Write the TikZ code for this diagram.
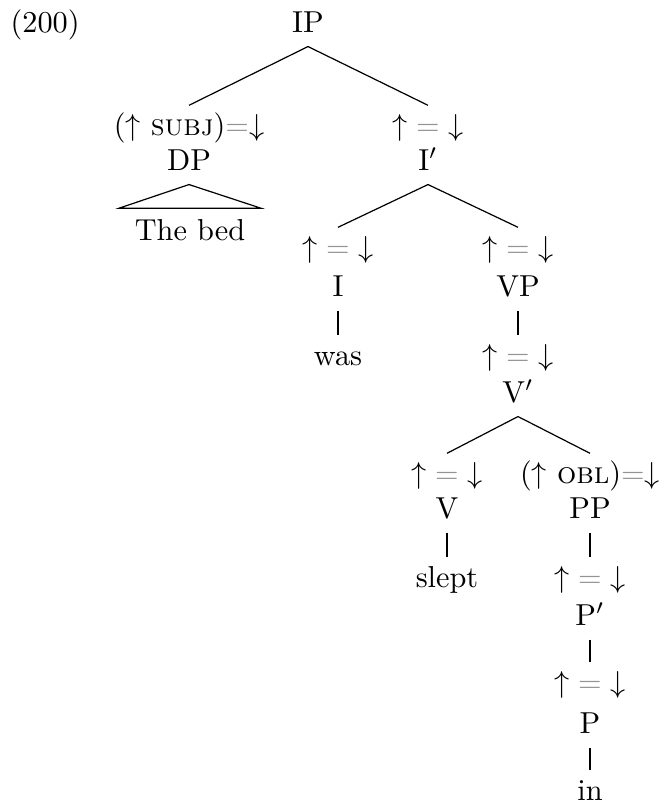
\documentclass[tikz,border=0pt]{standalone}
\usepackage{xcolor}
\colorlet{eqgray}{black!42}
\newcommand{\eqg}{\textcolor{eqgray}{=}}
\newcommand{\headeq}{${\uparrow} \mathrel{\textcolor{eqgray}{=}} {\downarrow}$}
\begin{document}
\begin{tikzpicture}[x=0.33pt,y=-0.33pt,
    lbl/.style={anchor=base,text height=7pt,text depth=2pt,inner sep=2.6pt}]
        \useasboundingbox (0,0) rectangle (664,805);
        \node [lbl,anchor=base west,inner sep=0pt] (exno) at (10,32) {(200)};
        \node [lbl] (ip) at (308,32) {IP};

        \node [lbl] (subjf) at (189,135) {($\uparrow$ \textsc{subj})\eqg$\downarrow$};
        \node [lbl] (dp) at (189,170) {DP};
        \node [lbl,inner xsep=5pt,inner ysep=3.3pt] (bed) at (190,240) {The bed};
        \draw (ip.south) -- (subjf.north);
        \draw (dp.south) -- (bed.north west) -- (bed.north east) -- cycle;

        \node [lbl] (ibarf) at (428,135) {\headeq};
        \node [lbl] (ibar) at (428,170) {I$'$};
        \draw (ip.south) -- (ibarf.north);

        \node [lbl] (if) at (338,257) {\headeq};
        \node [lbl] (i) at (338,296) {I};
        \node [lbl] (was) at (338,365) {was};
        \draw (ibar.south) -- (if.north);
        \draw (i.south) -- (was.north);

        \node [lbl] (vpf) at (518,257) {\headeq};
        \node [lbl] (vp) at (518,296) {VP};
        \node [lbl] (vbarf) at (518,365) {\headeq};
        \node [lbl] (vbar) at (518,402) {V$'$};
        \draw (ibar.south) -- (vpf.north);
        \draw (vp.south) -- (vbarf.north);

        \node [lbl] (vf) at (447,483) {\headeq};
        \node [lbl] (v) at (447,518) {V};
        \node [lbl] (slept) at (447,587) {slept};
        \draw (vbar.south) -- (vf.north);
        \draw (v.south) -- (slept.north);

        \node [lbl] (oblf) at (590,483) {($\uparrow$ \textsc{obl})\eqg$\downarrow$};
        \node [lbl] (pp) at (590,518) {PP};
        \node [lbl] (pbarf) at (590,587) {\headeq};
        \node [lbl] (pbar) at (590,625) {P$'$};
        \node [lbl] (pf) at (590,692) {\headeq};
        \node [lbl] (p) at (590,733) {P};
        \node [lbl] (in) at (590,800) {in};
        \draw (vbar.south) -- (oblf.north);
        \draw (pp.south) -- (pbarf.north);
        \draw (pbar.south) -- (pf.north);
        \draw (p.south) -- (in.north);
      \end{tikzpicture}
\end{document}
